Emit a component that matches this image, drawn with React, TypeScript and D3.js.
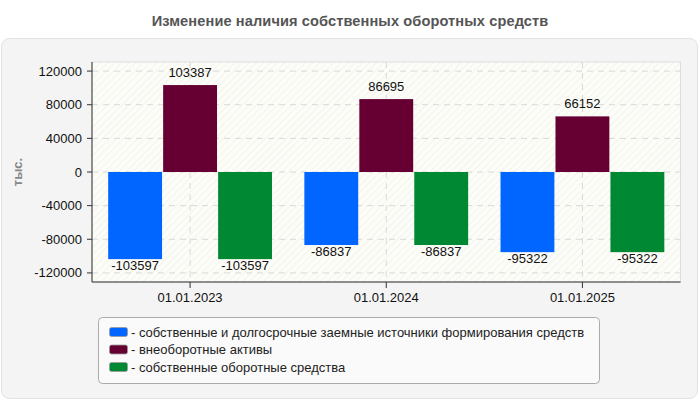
import React from "react";
import * as d3 from "d3";

const categories = ["01.01.2023", "01.01.2024", "01.01.2025"];
const seriesNames = [
  "собственные и долгосрочные заемные источники формирования средств",
  "внеоборотные активы",
  "собственные оборотные средства",
];
const seriesColors = ["#0066FF", "#660033", "#008833"];
const ownLongTerm = [-103597, -86837, -95322];
const nonCurrent = [103387, 86695, 66152];
const ownWorking = [-103597, -86837, -95322];
const yTicks = [-120000, -80000, -40000, 0, 40000, 80000, 120000];

const W = 700;
const H = 400;
const left = 92;
const right = 680.5;
const top = 62;
const bottom = 282;

export default function App() {
  const series = [ownLongTerm, nonCurrent, ownWorking];
  const x = d3.scaleBand<string>().domain(categories).range([left, right]).paddingInner(0.165).paddingOuter(0.0825);
  const x1 = d3.scaleBand<number>().domain([0, 1, 2]).range([0, x.bandwidth()]).paddingInner(0.02);
  const y = d3.scaleLinear().domain([-130800, 130800]).range([bottom, top]);
  const font = "Arial, 'Liberation Sans', sans-serif";

  return (
    <svg width={W} height={H} style={{ position: "absolute", left: 0, top: 0 }} fontFamily={font}>
      <defs>
        <pattern id="hatch" width="5" height="5" patternUnits="userSpaceOnUse" patternTransform="rotate(45)">
          <rect width="5" height="5" fill="#fdfdf8" />
          <line x1="0" y1="0" x2="0" y2="5" stroke="#ececec" strokeWidth="1.2" />
        </pattern>
      </defs>
      <rect x={0} y={0} width={W} height={H} fill="#ffffff" />
      <rect x={1.5} y={38.5} width={696} height={360} rx={8} fill="#f4f4f4" stroke="#e2e2e2" />
      <text x={350} y={25.5} textAnchor="middle" fontSize={14.6} letterSpacing={0.1} fontWeight="bold" fill="#555">
        Изменение наличия собственных оборотных средств
      </text>
      <text transform={`translate(22,${(top + bottom) / 2}) rotate(-90)`} textAnchor="middle" fontSize={13} fontWeight="bold" fill="#888">
        тыс.
      </text>
      <rect x={left} y={top} width={right - left} height={bottom - top} fill="url(#hatch)" stroke="#dddddd" />
      {yTicks.map((t) => (
        <g key={t}>
          <line x1={left} x2={right} y1={y(t)} y2={y(t)} stroke="#d8d8d8" strokeDasharray="6,5" />
          <line x1={left - 5} x2={left} y1={y(t)} y2={y(t)} stroke="#333" />
          <text x={left - 10} y={y(t)} dy="0.35em" textAnchor="end" fontSize={13} fill="#111">
            {t}
          </text>
        </g>
      ))}
      {categories.map((c) => {
        const cx = (x(c) as number) + x.bandwidth() / 2;
        return (
          <g key={c}>
            <line x1={cx} x2={cx} y1={top} y2={bottom} stroke="#d8d8d8" strokeDasharray="6,5" />
            <line x1={cx} x2={cx} y1={bottom} y2={bottom + 6} stroke="#333" />
            <text x={cx} y={bottom + 19.5} textAnchor="middle" fontSize={13} fill="#111">
              {c}
            </text>
          </g>
        );
      })}
      {categories.map((c, i) =>
        series.map((s, k) => {
          const v = s[i];
          const bx = (x(c) as number) + (x1(k) as number);
          const y0 = y(0);
          const yv = y(v);
          const by = Math.min(y0, yv);
          const bh = Math.abs(yv - y0);
          const cx = bx + x1.bandwidth() / 2;
          return (
            <g key={`${c}-${k}`}>
              <rect x={bx} y={by} width={x1.bandwidth()} height={bh} fill={seriesColors[k]} />
              <text x={cx} y={v >= 0 ? yv - 8.5 : yv + 6} dy={v >= 0 ? 0 : "0.35em"} textAnchor="middle" fontSize={13} fill="#111">
                {v}
              </text>
            </g>
          );
        })
      )}
      <line x1={left} x2={left} y1={top} y2={bottom} stroke="#333" />
      <line x1={left} x2={right} y1={bottom} y2={bottom} stroke="#333" />
      <rect x={98.5} y={317.5} width={501} height={66} rx={4} fill="#fafafa" stroke="#aaaaaa" />
      {seriesNames.map((n, k) => (
        <g key={n}>
          <rect x={109.5} y={327.5 + k * 17.5} width={18} height={9} rx={2} fill={seriesColors[k]} stroke="#999" strokeWidth={0.8} />
          <text x={131} y={332 + k * 17.5} dy="0.35em" fontSize={13} fill="#222">
            {"- " + n}
          </text>
        </g>
      ))}
    </svg>
  );
}
